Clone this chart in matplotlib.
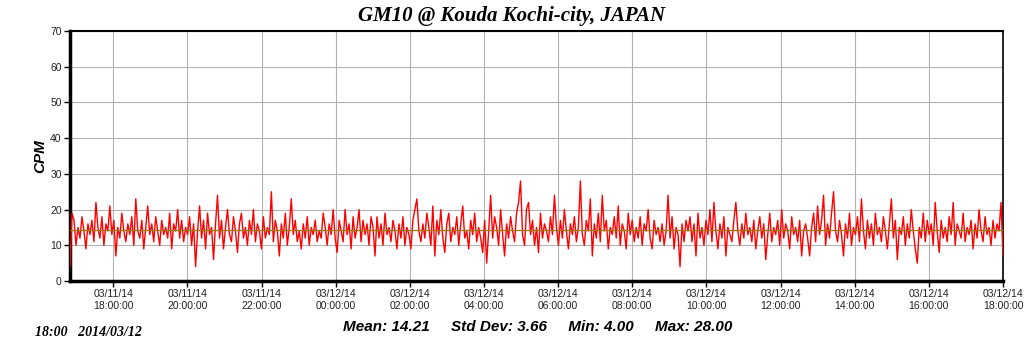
import matplotlib
matplotlib.use("Agg")
import matplotlib.pyplot as plt
import matplotlib.dates as mdates
import pandas as pd

# CPM readings left to right
cpm_seg1 = [4, 19, 17, 10, 15, 12, 18, 14, 9, 16, 13, 17, 11, 22, 15, 12, 18, 10, 16, 14,
            21, 13, 17, 7, 15, 12, 19, 14, 11, 16, 13, 18, 10, 23, 14, 12, 17, 9, 15, 21,
            13, 16, 11, 18, 14, 10, 17, 13, 15, 12, 19, 9, 16, 14, 20, 12, 17, 11, 15, 13,
            18, 10, 16, 4, 14, 21, 12, 17, 9, 19, 13, 15, 6, 16]
cpm_seg2 = [24, 12, 17, 9, 15, 20, 13, 11, 18, 14, 8, 16, 19, 12, 15, 10, 17, 13, 20, 11,
            16, 14, 9, 18, 12, 15, 13, 25, 11, 17, 14, 7, 16, 12, 19, 10, 15, 23, 13, 17,
            11, 14, 9, 16, 12, 18, 10, 15, 13, 17, 11, 14, 12, 19, 15, 10, 16, 13, 20, 12,
            8, 17, 14, 11, 20, 13, 16, 9, 18, 12, 15, 20, 11, 17, 13, 16, 10, 18]
cpm_seg3 = [15, 7, 18, 12, 16, 10, 19, 13, 15, 11, 17, 14, 9, 16, 12, 18, 10, 15, 13, 9,
            17, 20, 23, 14, 11, 16, 12, 19, 15, 10, 21, 7, 17, 13, 20, 12, 8, 16, 19, 11,
            15, 13, 18, 10, 16, 21, 12, 14, 9, 17, 13, 19, 11, 15, 12, 8, 17, 5, 14, 24,
            12, 18, 15, 10, 20, 13, 7, 16, 12, 18, 14, 11, 19, 22, 28, 13, 10, 20]
cpm_seg4 = [22, 13, 17, 10, 15, 8, 19, 12, 16, 14, 11, 18, 13, 24, 15, 10, 17, 12, 20, 14,
            9, 16, 13, 18, 11, 15, 28, 13, 10, 17, 14, 23, 7, 16, 12, 19, 11, 24, 14, 17,
            9, 15, 13, 18, 12, 21, 10, 16, 14, 9, 19, 13, 17, 11, 15, 12, 18, 10, 16, 14,
            20, 12, 9, 17, 13, 15, 11, 16, 10, 14, 24, 12, 18, 9, 15, 13, 4, 16, 11, 17]
cpm_seg5 = [14, 18, 11, 16, 7, 19, 12, 15, 10, 17, 13, 20, 11, 22, 14, 9, 16, 12, 18, 7,
            15, 13, 11, 17, 22, 14, 10, 16, 12, 19, 13, 15, 11, 17, 9, 14, 18, 12, 16, 6,
            13, 19, 11, 15, 13, 17, 10, 20, 12, 16, 14, 9, 18, 13, 15, 11, 17, 7, 14, 16,
            12, 7, 15, 19, 11, 21, 13, 17, 24, 10, 16, 12, 19, 25, 14, 11, 17, 13]
cpm_seg6 = [7, 16, 12, 19, 10, 15, 13, 18, 11, 23, 14, 9, 17, 12, 16, 10, 19, 13, 15, 11,
            18, 14, 9, 16, 23, 12, 17, 6, 15, 13, 18, 10, 16, 12, 20, 14, 9, 5, 15, 12,
            19, 11, 17, 13, 16, 10, 22, 14, 8, 17, 12, 15, 11, 18, 13, 22, 10, 16, 14, 12,
            19, 11, 15, 13, 17, 9, 16, 12, 20, 14, 11, 18, 13, 15, 10, 17, 12, 16, 14, 22, 7]

start_time = "2014-03-11 16:50"
end_time = "2014-03-12 18:00"
mean_cpm = 14.21
stats_text = "Mean: 14.21     Std Dev: 3.66     Min: 4.00     Max: 28.00"
stamp_text = "18:00   2014/03/12"
title = "GM10 @ Kouda Kochi-city, JAPAN"

cpm = cpm_seg1 + cpm_seg2 + cpm_seg3 + cpm_seg4 + cpm_seg5 + cpm_seg6
times = pd.date_range(start_time, end_time, periods=len(cpm))

fig = plt.figure(figsize=(10.24, 3.51), dpi=100)
ax = fig.add_axes([70 / 1024, 1 - 281 / 351, 933 / 1024, 250 / 351])

ax.plot(times, cpm, color="#ff0000", lw=1.0, zorder=3)
ax.axhline(mean_cpm, color="#a07800", lw=0.9, zorder=4)

ax.set_xlim(times[0], times[-1])
ax.set_ylim(0, 70)
ax.set_yticks(range(0, 71, 10))
ax.xaxis.set_major_locator(mdates.HourLocator(byhour=range(0, 24, 2)))
ax.xaxis.set_major_formatter(mdates.DateFormatter("%m/%d/%y\n%H:%M:%S"))
ax.grid(True, color="#b4b4b4", lw=0.8)
ax.set_axisbelow(True)

for lbl in ax.get_xticklabels() + ax.get_yticklabels():
    lbl.set_fontfamily("Liberation Sans")
    lbl.set_fontsize(7.5)
    lbl.set_color("#222222")
ax.tick_params(axis="both", length=4, width=1, color="black", pad=2)

ax.spines["left"].set_linewidth(2.5)
ax.spines["bottom"].set_linewidth(2.5)
ax.spines["top"].set_linewidth(1.5)
ax.spines["right"].set_linewidth(1.2)

ax.set_ylabel("CPM", fontfamily="Liberation Sans", fontsize=11,
              fontweight="bold", fontstyle="italic", labelpad=2)

fig.text(512 / 1024, 1 - 16 / 351, title, ha="center", va="center",
         fontfamily="Liberation Serif", fontsize=15, fontweight="bold", fontstyle="italic")
fig.text(538 / 1024, 1 - 327 / 351, stats_text, ha="center", va="center",
         fontfamily="Liberation Sans", fontsize=11, fontweight="bold", fontstyle="italic")
fig.text(35 / 1024, 1 - 332 / 351, stamp_text, ha="left", va="center",
         fontfamily="Liberation Serif", fontsize=10, fontweight="bold", fontstyle="italic")

fig.savefig("out.png", dpi=100)
